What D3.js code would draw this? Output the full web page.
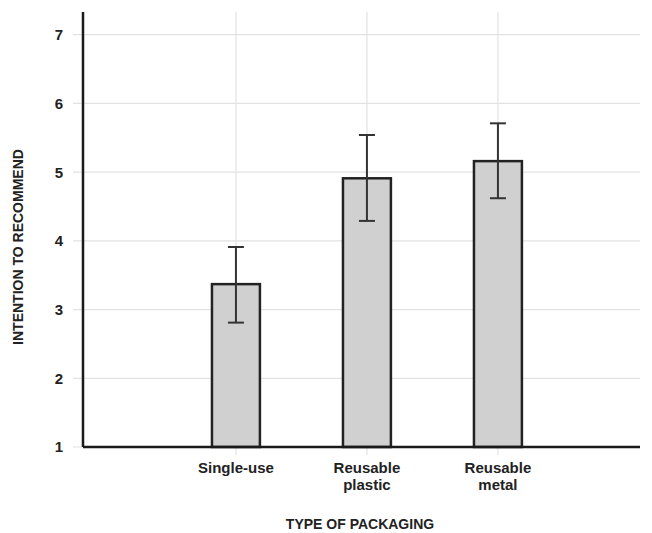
<!DOCTYPE html>
<head>
  <meta charset="utf-8">
  <title>recommend.html</title>
</head>
<style>
body { margin: 0; background: #fff; }
text { font-family: "Liberation Sans", Arial, sans-serif; font-weight: bold; fill: #222; }
.grid line { stroke: #e2e2e2; stroke-width: 1.2; }
</style>
<svg width="652" height="533"></svg>
<script src="https://d3js.org/d3.v7.min.js"></script>
<script>
var categories = ["Single-use", "Reusable plastic", "Reusable metal"];
var tickLabels = [["Single-use"], ["Reusable", "plastic"], ["Reusable", "metal"]];
var means = [3.37, 4.91, 5.16];
var upper = [3.91, 5.54, 5.71];
var lower = [2.81, 4.29, 4.62];
var yTicks = [1, 2, 3, 4, 5, 6, 7];

var svg = d3.select("svg"),
    margin = { top: 12, right: 12, bottom: 86, left: 83 },
    width = +svg.attr("width"),
    height = +svg.attr("height");

var x = d3.scaleBand()
    .domain(categories)
    .range([margin.left, width - margin.right])
    .paddingInner(0.634)
    .paddingOuter(0.943)
    .align(0.522);

var y = d3.scaleLinear()
    .domain([1, 7.33])
    .range([height - margin.bottom, margin.top]);

// gridlines
var grid = svg.append("g").attr("class", "grid");
grid.selectAll(".h").data(yTicks).enter().append("line")
    .attr("x1", margin.left - 10).attr("x2", width - margin.right)
    .attr("y1", function(d) { return y(d); }).attr("y2", function(d) { return y(d); });
grid.selectAll(".v").data(categories).enter().append("line")
    .attr("x1", function(d) { return x(d) + x.bandwidth() / 2; })
    .attr("x2", function(d) { return x(d) + x.bandwidth() / 2; })
    .attr("y1", margin.top).attr("y2", y(1) + 8);

// bars
svg.selectAll(".bar").data(categories).enter().append("rect")
    .attr("x", function(d) { return x(d); })
    .attr("width", x.bandwidth())
    .attr("y", function(d, i) { return y(means[i]); })
    .attr("height", function(d, i) { return y(1) - y(means[i]); })
    .attr("fill", "#d0d0d0")
    .attr("stroke", "#222")
    .attr("stroke-width", 2.5);

// error bars
var eb = svg.selectAll(".err").data(categories).enter().append("g")
    .attr("stroke", "#333").attr("stroke-width", 2);
eb.append("line")
    .attr("x1", function(d) { return x(d) + x.bandwidth() / 2; })
    .attr("x2", function(d) { return x(d) + x.bandwidth() / 2; })
    .attr("y1", function(d, i) { return y(upper[i]); })
    .attr("y2", function(d, i) { return y(lower[i]); });
[upper, lower].forEach(function(arr) {
  eb.append("line")
      .attr("x1", function(d) { return x(d) + x.bandwidth() / 2 - 8; })
      .attr("x2", function(d) { return x(d) + x.bandwidth() / 2 + 8; })
      .attr("y1", function(d, i) { return y(arr[i]); })
      .attr("y2", function(d, i) { return y(arr[i]); });
});

// axes lines
svg.append("line")
    .attr("x1", margin.left).attr("x2", margin.left)
    .attr("y1", margin.top).attr("y2", y(1))
    .attr("stroke", "#1a1a1a").attr("stroke-width", 2.5);
svg.append("line")
    .attr("x1", margin.left).attr("x2", width - margin.right)
    .attr("y1", y(1)).attr("y2", y(1))
    .attr("stroke", "#1a1a1a").attr("stroke-width", 2.5);

// y tick labels
svg.selectAll(".ylab").data(yTicks).enter().append("text")
    .attr("x", 63)
    .attr("y", function(d) { return y(d); })
    .attr("dy", "0.36em")
    .attr("text-anchor", "end")
    .style("font-size", "15px")
    .text(function(d) { return d; });

// x tick labels
var xl = svg.selectAll(".xlab").data(categories).enter().append("text")
    .attr("x", function(d) { return x(d) + x.bandwidth() / 2; })
    .attr("y", 473)
    .attr("text-anchor", "middle")
    .style("font-size", "15px");
xl.selectAll("tspan").data(function(d, i) { return tickLabels[i]; }).enter().append("tspan")
    .attr("x", function() { return d3.select(this.parentNode).attr("x"); })
    .attr("dy", function(d, i) { return i ? "1.15em" : 0; })
    .text(function(d) { return d; });

// axis titles
svg.append("text")
    .attr("x", 360).attr("y", 529)
    .attr("text-anchor", "middle")
    .style("font-size", "14px")
    .text("TYPE OF PACKAGING");
svg.append("text")
    .attr("transform", "translate(23," + 247 + ") rotate(-90)")
    .attr("text-anchor", "middle")
    .style("font-size", "14px")
    .text("INTENTION TO RECOMMEND");
</script>
